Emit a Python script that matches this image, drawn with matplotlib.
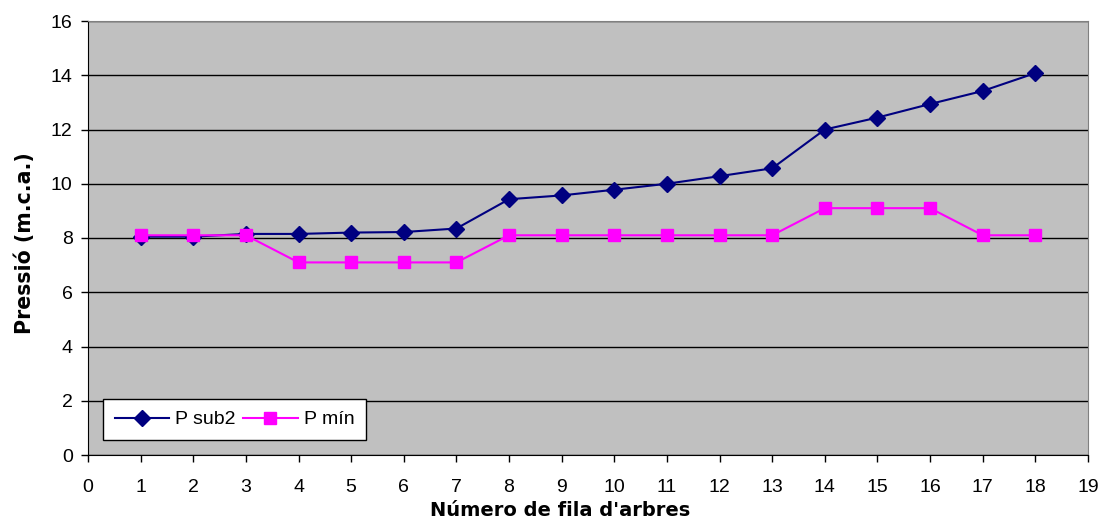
import matplotlib
matplotlib.use("Agg")
import matplotlib.pyplot as plt

plt.rcParams['font.family'] = ['Liberation Sans', 'DejaVu Sans']

fila = list(range(1, 19))
p_sub2 = [8.05, 8.05, 8.15, 8.15, 8.2, 8.22, 8.35, 9.43, 9.57, 9.78, 10.0,
          10.28, 10.57, 12.0, 12.44, 12.94, 13.42, 14.08]
p_min = [8.1, 8.1, 8.1, 7.1, 7.1, 7.1, 7.1, 8.1, 8.1, 8.1, 8.1, 8.1, 8.1,
         9.1, 9.1, 9.1, 8.1, 8.1]
x_ticks = list(range(0, 20))
y_ticks = list(range(0, 17, 2))

fig = plt.figure(figsize=(11.06, 5.18), dpi=100)
ax = fig.add_axes([88/1106, 1-455/518, 1000/1106, 434/518])
ax.set_facecolor('#C0C0C0')

ax.plot(fila, p_sub2, color='#000080', marker='D', markersize=8, lw=1.5,
        label='P sub2', zorder=3)
ax.plot(fila, p_min, color='#FF00FF', marker='s', markersize=9, lw=1.5,
        label='P mín', zorder=3)

ax.set_xlim(0, 19)
ax.set_ylim(0, 16)
ax.set_xticks(x_ticks)
ax.set_yticks(y_ticks)
ax.yaxis.grid(True, color='black', lw=1)
ax.set_axisbelow(True)
for s in ['top', 'right']:
    ax.spines[s].set_color('#808080')
for s in ['left', 'bottom']:
    ax.spines[s].set_color('black')
ax.tick_params(axis='both', labelsize=14, length=5, direction='out', width=1)
ax.tick_params(axis='x', pad=12)
ax.tick_params(axis='y', pad=6)

ax.set_xlabel("Número de fila d'arbres", labelpad=0, family='DejaVu Sans',
              fontsize=14, fontweight='bold')
ax.xaxis.set_label_coords(0.472, -0.105)
ax.set_ylabel("Pressió (m.c.a.)", labelpad=12, family='DejaVu Sans',
              fontsize=14.8, fontweight='bold')
ax.yaxis.set_label_coords(-0.053, 0.488)

leg = ax.legend(loc='lower left', bbox_to_anchor=(15/1000, 15/434), ncol=2,
                fontsize=14, frameon=True, fancybox=False, edgecolor='black',
                framealpha=1, handlelength=2.8, columnspacing=0.4,
                handletextpad=0.3, borderpad=0.6, borderaxespad=0)
leg.get_frame().set_linewidth(1)

fig.savefig('out.png', dpi=100)
